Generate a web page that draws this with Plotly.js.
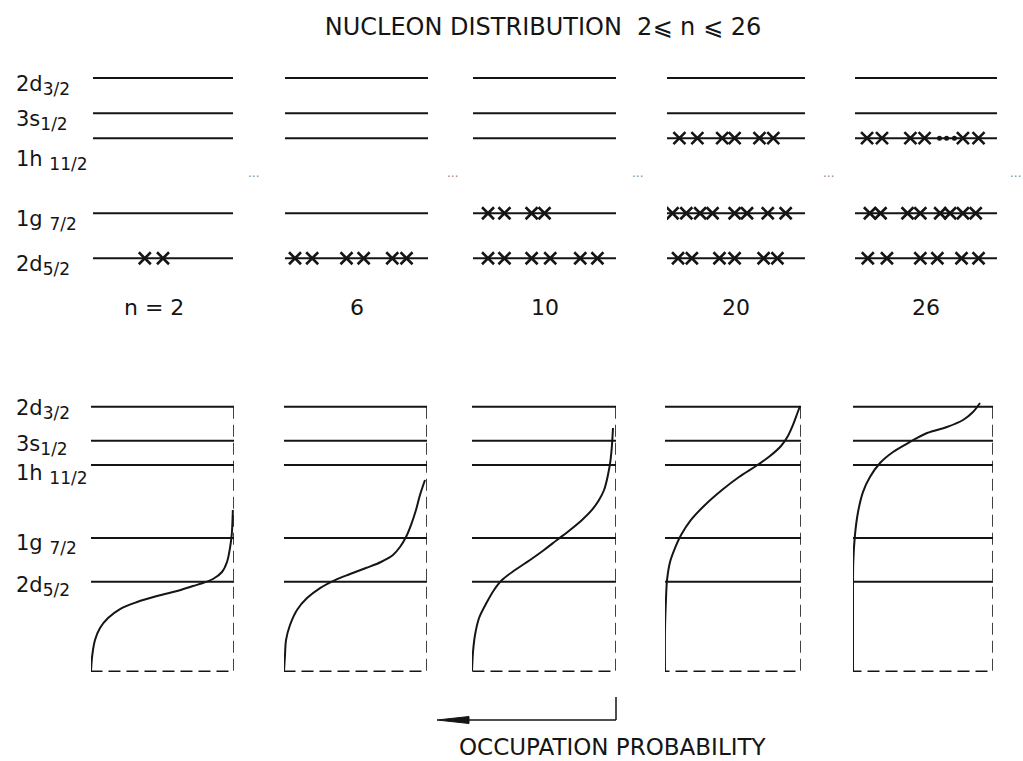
<!DOCTYPE html>
<html>
<head>
<meta charset="utf-8">
<script src="https://cdn.plot.ly/plotly-3.0.1.min.js"></script>
<style>html,body{margin:0;padding:0;background:#fff;}#chart{width:1023px;height:761px;}</style>
</head>
<body>
<div id="chart"></div>
<script>
// ---------------- data ----------------
const levelNames   = ['2d5/2', '1g7/2', '1h11/2', '3s1/2', '2d3/2'];
const levelMain    = ['2d', '1g ', '1h ', '3s', '2d'];
const levelSub     = ['5/2', '7/2', '11/2', '1/2', '3/2'];
const levelEnergy  = [0.0, 0.45, 1.2, 1.45, 1.8];   // schematic single-particle energies
const nValues      = [2, 6, 10, 20, 26];
const boxBottomE   = -0.92;

// nucleon (cross) positions along each level, per n; order follows levelNames
const crosses_n2  = [[0.37, 0.50], [], [], [], []];
const crosses_n6  = [[0.07, 0.19, 0.43, 0.55, 0.75, 0.85], [], [], [], []];
const crosses_n10 = [[0.105, 0.22, 0.41, 0.54, 0.75, 0.87], [0.105, 0.22, 0.41, 0.50], [], [], []];
const crosses_n20 = [[0.08, 0.18, 0.38, 0.49, 0.70, 0.80],
                     [0.04, 0.14, 0.24, 0.33, 0.49, 0.58, 0.73, 0.86],
                     [0.09, 0.22, 0.40, 0.49, 0.67, 0.77], [], []];
const crosses_n26 = [[0.09, 0.225, 0.46, 0.58, 0.75, 0.87],
                     [0.105, 0.18, 0.37, 0.46, 0.60, 0.67, 0.76, 0.85],
                     [0.085, 0.19, 0.39, 0.49, 0.76, 0.87], [], []];
const ellipsis_n26_1h = [0.595, 0.645, 0.70];

// occupation probability curves (occupation, energy) per n
const occ_n2  = [1.0, 0.991, 0.972, 0.937, 0.881, 0.797, 0.678, 0.538, 0.399, 0.287, 0.217, 0.147, 0.084, 0.049, 0.028, 0.016, 0.011, 0.008];
const en_n2   = [-0.92, -0.754, -0.60, -0.477, -0.374, -0.281, -0.209, -0.147, -0.095, -0.044, -0.013, 0.028, 0.100, 0.203, 0.347, 0.481, 0.615, 0.737];
const occ_n6  = [1.0, 0.993, 0.986, 0.958, 0.909, 0.839, 0.748, 0.643, 0.538, 0.427, 0.322, 0.238, 0.189, 0.147, 0.112, 0.077, 0.049, 0.014];
const en_n6   = [-0.92, -0.754, -0.60, -0.445, -0.290, -0.168, -0.065, 0.017, 0.079, 0.141, 0.203, 0.275, 0.357, 0.460, 0.583, 0.738, 0.892, 1.046];
const occ_n10 = [1.0, 0.993, 0.979, 0.951, 0.896, 0.847, 0.792, 0.701, 0.597, 0.500, 0.410, 0.319, 0.236, 0.167, 0.118, 0.083, 0.056, 0.038, 0.028, 0.021];
const en_n10  = [-0.92, -0.723, -0.548, -0.373, -0.209, -0.085, 0.017, 0.120, 0.223, 0.326, 0.429, 0.532, 0.635, 0.738, 0.840, 0.943, 1.097, 1.251, 1.406, 1.581];
const occ_n20 = [1.0, 1.0, 0.993, 0.985, 0.963, 0.926, 0.882, 0.809, 0.706, 0.581, 0.456, 0.331, 0.228, 0.147, 0.096, 0.059, 0.029, 0.007];
const en_n20  = [-0.92, -0.497, -0.188, 0.017, 0.203, 0.347, 0.480, 0.635, 0.789, 0.943, 1.077, 1.190, 1.293, 1.396, 1.499, 1.612, 1.725, 1.807];
const occ_n26 = [1.0, 1.0, 0.998, 0.986, 0.964, 0.929, 0.879, 0.807, 0.714, 0.593, 0.471, 0.329, 0.214, 0.143, 0.093];
const en_n26  = [-0.92, -0.312, 0.202, 0.480, 0.717, 0.922, 1.077, 1.221, 1.334, 1.437, 1.529, 1.591, 1.663, 1.745, 1.838];

const crossSets = [crosses_n2, crosses_n6, crosses_n10, crosses_n20, crosses_n26];
const occCurves = [occ_n2, occ_n6, occ_n10, occ_n20, occ_n26];
const enCurves  = [en_n2, en_n6, en_n10, en_n20, en_n26];

// ---------------- layout helpers ----------------
const W = 1023, H = 761;
const px = v => v / W;
const py = v => 1 - v / H;
const topDomains = [[93, 233], [285, 428], [473, 616], [667, 805], [855, 997]];
const botDomains = [[91, 234], [284, 427], [472, 616], [665, 801], [853, 993]];
const INK = '#151515';
const FONT = 'DejaVu Sans, Arial, sans-serif';

const traces = [];
const layout = {
  width: W, height: H,
  margin: {l: 0, r: 0, t: 0, b: 0},
  paper_bgcolor: '#fff', plot_bgcolor: 'rgba(0,0,0,0)',
  showlegend: false,
  font: {family: FONT, color: INK},
  title: {text: 'NUCLEON DISTRIBUTION  2⩽ n ⩽ 26', x: px(543), xanchor: 'center',
          y: py(27), yanchor: 'middle', font: {size: 24, family: FONT, color: INK}},
  annotations: [],
  shapes: []
};

function axisName(i) { return i === 0 ? '' : String(i + 1); }

for (let c = 0; c < 5; c++) {
  const ti = c, bi = c + 5;
  const tx = 'x' + axisName(ti), ty = 'y' + axisName(ti);
  const bx = 'x' + axisName(bi), by = 'y' + axisName(bi);
  layout['xaxis' + axisName(ti)] = {domain: [px(topDomains[c][0]), px(topDomains[c][1])], range: [0, 1],
    visible: false, fixedrange: true, anchor: ty};
  layout['yaxis' + axisName(ti)] = {domain: [py(298.3), py(58.1)], range: [-0.4, 2.0],
    visible: false, fixedrange: true, anchor: tx};
  layout['xaxis' + axisName(bi)] = {domain: [px(botDomains[c][0]), px(botDomains[c][1])], range: [1, 0],
    visible: false, fixedrange: true, anchor: by};
  layout['yaxis' + axisName(bi)] = {domain: [py(674.1), py(392.1)], range: [-0.95, 1.95],
    visible: false, fixedrange: true, anchor: bx};

  // level lines (top)
  const lx = [], ly = [];
  levelEnergy.forEach(e => { lx.push(0, 1, null); ly.push(e, e, null); });
  traces.push({type: 'scatter', mode: 'lines', x: lx, y: ly, xaxis: tx, yaxis: ty,
    line: {color: INK, width: 2}, hoverinfo: 'skip'});

  // crosses (nucleons)
  const cx = [], cy = [];
  crossSets[c].forEach((arr, li) => arr.forEach(p => { cx.push(p); cy.push(levelEnergy[li]); }));
  traces.push({type: 'scatter', mode: 'markers', x: cx, y: cy, xaxis: tx, yaxis: ty,
    marker: {symbol: 'x-thin', size: 12, color: INK, line: {color: INK, width: 2.6}}, hoverinfo: 'skip'});

  // level lines (bottom)
  const bxs = [], bys = [];
  levelEnergy.forEach(e => { bxs.push(1, 0, null); bys.push(e, e, null); });
  traces.push({type: 'scatter', mode: 'lines', x: bxs, y: bys, xaxis: bx, yaxis: by,
    line: {color: INK, width: 2}, hoverinfo: 'skip'});

  // dashed box (right edge = zero occupation, bottom)
  traces.push({type: 'scatter', mode: 'lines', x: [0, 0, 1], y: [levelEnergy[4], boxBottomE, boxBottomE],
    xaxis: bx, yaxis: by, line: {color: INK, width: 1.6, dash: '12px,6px'}, hoverinfo: 'skip'});

  // occupation curve
  traces.push({type: 'scatter', mode: 'lines', x: occCurves[c], y: enCurves[c], xaxis: bx, yaxis: by,
    line: {color: INK, width: 2, shape: 'spline', smoothing: 1}, hoverinfo: 'skip', cliponaxis: false});

  // n labels
  layout.annotations.push({xref: tx + ' domain', yref: 'paper', x: 0.5, y: py(307),
    xanchor: 'center', yanchor: 'middle', xshift: c === 0 ? -9 : 0, showarrow: false,
    text: (c === 0 ? 'n = ' : '') + nValues[c], font: {size: 22, family: FONT, color: INK}});

  // "..." separators
  const dotsX = [253, 452, 637, 828, 1015];
  layout.annotations.push({xref: 'paper', yref: 'paper', x: px(dotsX[c]), y: py(177),
    xanchor: 'center', yanchor: 'middle', showarrow: false, text: '···',
    font: {size: 12, color: '#8a8a8a', family: FONT}});
}

// ellipsis dots on 1h11/2 for n = 26
traces.push({type: 'scatter', mode: 'markers', x: ellipsis_n26_1h, y: ellipsis_n26_1h.map(() => levelEnergy[2]),
  xaxis: 'x5', yaxis: 'y5', marker: {symbol: 'circle', size: 5, color: INK}, hoverinfo: 'skip'});

// level labels
const topShift = [0, 0, -15, 0, 0];
const botShift = [2, 0, -2, 2, 4];
levelMain.forEach((m, i) => {
  const lab = m + '<sub><span style="font-size:17px">' + levelSub[i] + '</span></sub>';
  layout.annotations.push({xref: 'paper', yref: 'y', x: px(14), y: levelEnergy[i], xanchor: 'left',
    yanchor: 'middle', yshift: topShift[i] - 7, showarrow: false, text: lab,
    font: {size: 21, family: FONT, color: INK}});
  layout.annotations.push({xref: 'paper', yref: 'y6', x: px(14), y: levelEnergy[i], xanchor: 'left',
    yanchor: 'middle', yshift: botShift[i] - 7, showarrow: false, text: lab,
    font: {size: 21, family: FONT, color: INK}});
});

// occupation-probability arrow
layout.shapes.push({type: 'line', xref: 'paper', yref: 'paper', x0: px(616), x1: px(616), y0: py(697), y1: py(720),
  line: {color: INK, width: 1.5}});
layout.shapes.push({type: 'line', xref: 'paper', yref: 'paper', x0: px(616), x1: px(460), y0: py(720), y1: py(720),
  line: {color: INK, width: 1.5}});
layout.shapes.push({type: 'path', xref: 'paper', yref: 'paper', xsizemode: 'pixel', ysizemode: 'pixel',
  xanchor: px(437), yanchor: py(720), path: 'M0,0 L32,3.5 L32,-3.5 Z',
  fillcolor: INK, line: {color: INK, width: 1}});
layout.annotations.push({xref: 'paper', yref: 'paper', x: px(613), y: py(747), xanchor: 'center', yanchor: 'middle',
  showarrow: false, text: 'OCCUPATION PROBABILITY', font: {size: 23, family: FONT, color: INK}});

Plotly.newPlot('chart', traces, layout, {displayModeBar: false, staticPlot: true});
</script>
</body>
</html>
